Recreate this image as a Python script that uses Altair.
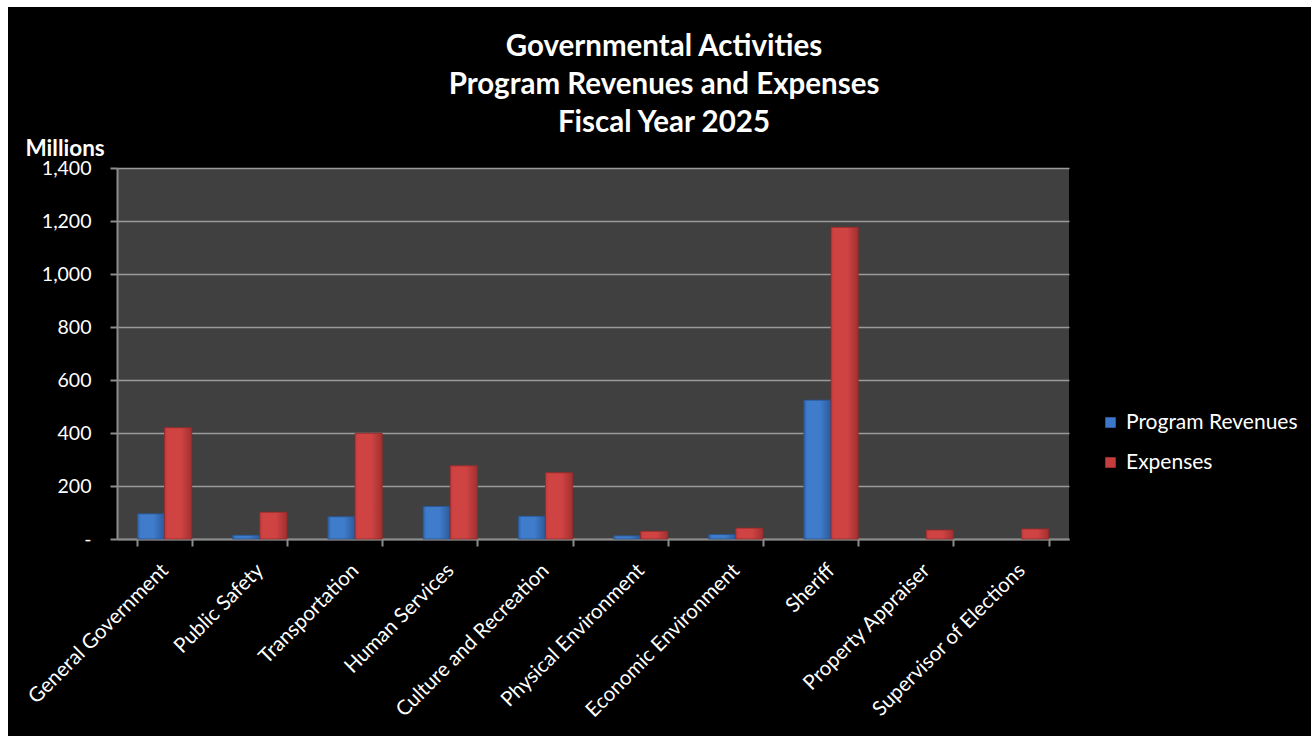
import altair as alt
import pandas as pd

categories = [
    "General Government", "Public Safety", "Transportation", "Human Services",
    "Culture and Recreation", "Physical Environment", "Economic Environment",
    "Sheriff", "Property Appraiser", "Supervisor of Elections",
]
program_revenues = [95, 14, 84, 123, 86, 12, 17, 524, 0, 0]
expenses = [420, 101, 399, 276, 250, 29, 41, 1176, 34, 38]
series = ["Program Revenues", "Expenses"]
y_ticks = [0, 200, 400, 600, 800, 1000, 1200, 1400]
title_lines = ["Governmental Activities", "Program Revenues and Expenses", "Fiscal Year 2025"]

rows = []
for c, r, e in zip(categories, program_revenues, expenses):
    rows.append({"category": c, "series": series[0], "value": r})
    rows.append({"category": c, "series": series[1], "value": e})
df = pd.DataFrame(rows)

FONT = "Lato"
W, H = 952, 371
PAD = {"left": 117, "top": 168, "right": 242, "bottom": 197}

x_enc = alt.X(
    "category:N", sort=categories,
    scale=alt.Scale(paddingInner=0.43, paddingOuter=0.215),
    axis=alt.Axis(
        title=None, labelAngle=-45, labelFontSize=20.5, labelColor="white",
        labelFont=FONT, tickBand="extent", tickSize=7, tickColor="#8c8c8c",
        tickWidth=2, domainColor="#8c8c8c", domainWidth=2, labelPadding=14,
        labelLimit=400, labelOffset=-7, grid=False,
    ),
)
xo_enc = alt.XOffset("series:N", sort=series)
y_enc = alt.Y(
    "value:Q",
    scale=alt.Scale(domain=[0, 1400], nice=False),
    axis=alt.Axis(
        values=y_ticks, labelExpr="datum.value == 0 ? '-' : format(datum.value, ',')",
        labelFontSize=19.5, labelColor="white", labelFont=FONT, labelPadding=19,
        tickSize=7, tickColor="#8c8c8c", tickWidth=2, domainColor="#8c8c8c",
        domainWidth=2, gridColor="#9a9a9a", gridWidth=1.6,
        title="Millions", titleAngle=0, titleAlign="left", titleBaseline="alphabetic",
        titleX=-92, titleY=-13, titleFontSize=22.5, titleFont=FONT,
        titleFontWeight="bold", titleColor="white",
    ),
)

base = alt.Chart(df).mark_bar(strokeWidth=0).encode(
    x=x_enc, xOffset=xo_enc, y=y_enc,
    color=alt.Color(
        "series:N", sort=series,
        scale=alt.Scale(domain=series, range=["#3b78c9", "#c63d3d"]),
        legend=alt.Legend(
            title=None, orient="none", legendX=983, legendY=244,
            symbolType="square", symbolSize=110, symbolStrokeWidth=0,
            labelFontSize=21, labelColor="white", labelFont=FONT,
            rowPadding=18, labelOffset=5, labelLimit=300,
        ),
    ),
)


def grad(c_left, c_mid, c_right):
    return alt.Gradient(
        gradient="linear", x1=0, x2=1, y1=0, y2=0,
        stops=[
            alt.GradientStop(offset=0, color=c_left),
            alt.GradientStop(offset=0.12, color=c_mid),
            alt.GradientStop(offset=0.6, color=c_mid),
            alt.GradientStop(offset=1, color=c_right),
        ],
    )


blue_bars = alt.Chart(df).transform_filter(
    (alt.datum.series == series[0]) & (alt.datum.value > 0)
).mark_bar(
    fill=grad("#2f62a8", "#3f7ccb", "#2c5a9a"), stroke="#26508a", strokeWidth=0.8
).encode(x=x_enc, xOffset=xo_enc, y=y_enc)

red_bars = alt.Chart(df).transform_filter(
    (alt.datum.series == series[1]) & (alt.datum.value > 0)
).mark_bar(
    fill=grad("#c13a3a", "#cf4343", "#a23030"), stroke="#8f2a2a", strokeWidth=0.8
).encode(x=x_enc, xOffset=xo_enc, y=y_enc)

one = pd.DataFrame({"k": [0]})
border_left = alt.Chart(one).mark_rect(clip=False, color="white").encode(
    x=alt.value(-117), x2=alt.value(-109), y=alt.value(-168), y2=alt.value(568),
)
border_top = alt.Chart(one).mark_rect(clip=False, color="white").encode(
    x=alt.value(-117), x2=alt.value(1194), y=alt.value(-168), y2=alt.value(-161),
)

chart = alt.layer(base, blue_bars, red_bars, border_left, border_top).properties(
    width=W, height=H,
    padding=PAD,
    autosize=alt.AutoSizeParams(type="none"),
    background="black",
    title=alt.Title(
        title_lines, color="white", font=FONT, fontSize=29.5, fontWeight="bold",
        lineHeight=38, anchor="middle", dx=71, dy=168, offset=30, frame="group",
    ),
).configure_view(fill="#404040", stroke=None)

chart.save("out.html", embed_options={"renderer": "svg", "actions": False})
